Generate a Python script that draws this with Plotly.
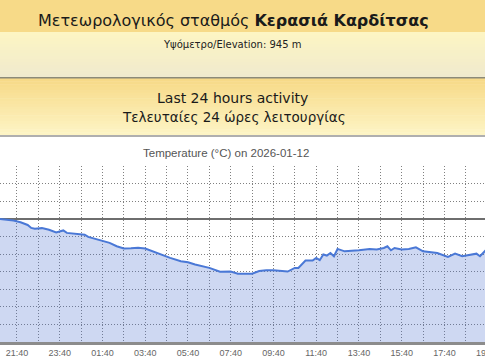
import plotly.graph_objects as go

# ---- data ----
times = [
    "2026-01-11 20:50", "2026-01-11 21:10", "2026-01-11 21:30", "2026-01-11 21:50",
    "2026-01-11 22:10", "2026-01-11 22:20", "2026-01-11 22:30", "2026-01-11 22:50",
    "2026-01-11 23:10", "2026-01-11 23:30", "2026-01-11 23:50", "2026-01-12 00:00",
    "2026-01-12 00:20", "2026-01-12 00:50", "2026-01-12 01:00", "2026-01-12 01:30",
    "2026-01-12 02:00", "2026-01-12 02:20", "2026-01-12 02:40", "2026-01-12 03:00",
    "2026-01-12 03:20", "2026-01-12 03:40", "2026-01-12 04:00", "2026-01-12 04:30",
    "2026-01-12 04:50", "2026-01-12 05:20", "2026-01-12 05:40", "2026-01-12 06:00",
    "2026-01-12 06:10", "2026-01-12 06:40", "2026-01-12 07:10", "2026-01-12 07:40",
    "2026-01-12 08:00", "2026-01-12 08:10", "2026-01-12 08:40", "2026-01-12 09:00",
    "2026-01-12 09:20", "2026-01-12 09:40", "2026-01-12 10:00", "2026-01-12 10:20",
    "2026-01-12 10:40", "2026-01-12 10:50", "2026-01-12 11:10", "2026-01-12 11:30",
    "2026-01-12 11:40", "2026-01-12 11:50", "2026-01-12 12:00", "2026-01-12 12:10",
    "2026-01-12 12:20", "2026-01-12 12:30", "2026-01-12 12:40", "2026-01-12 13:00",
    "2026-01-12 13:40", "2026-01-12 14:10", "2026-01-12 14:30", "2026-01-12 14:50",
    "2026-01-12 15:00", "2026-01-12 15:10", "2026-01-12 15:20", "2026-01-12 15:40",
    "2026-01-12 16:00", "2026-01-12 16:20", "2026-01-12 16:40", "2026-01-12 17:00",
    "2026-01-12 17:20", "2026-01-12 17:50", "2026-01-12 18:10", "2026-01-12 18:30",
    "2026-01-12 19:10", "2026-01-12 19:20", "2026-01-12 19:40",
]
temps = [
    0.0, -0.05, -0.1, -0.2,
    -0.35, -0.52, -0.57, -0.53,
    -0.62, -0.77, -0.66, -0.8,
    -0.85, -0.9, -1.03, -1.19,
    -1.37, -1.56, -1.69, -1.68,
    -1.64, -1.69, -1.85, -2.07,
    -2.22, -2.41, -2.47, -2.6,
    -2.65, -2.79, -3.01, -3.0,
    -3.12, -3.12, -3.12, -2.97,
    -2.92, -2.92, -2.97, -3.0,
    -2.79, -2.79, -2.37, -2.37,
    -2.22, -2.35, -2.03, -2.09,
    -1.94, -2.13, -1.71, -1.85,
    -1.79, -1.71, -1.75, -1.66,
    -1.56, -1.79, -1.66, -1.75,
    -1.71, -1.62, -1.85, -1.88,
    -1.94, -2.17, -1.98, -2.13,
    -1.98, -2.13, -1.7,
]
y_min, y_max = -7, 3
x_range = ["2026-01-11 20:52:18", "2026-01-12 19:34:00"]
tick_start = "2026-01-11 21:40"
extra_tick_label = "19:40"

title_main = "Μετεωρολογικός σταθμός <b>Κερασιά Καρδίτσας</b>"
subtitle = "Υψόμετρο/Elevation: 945 m"
banner_en = "Last 24 hours activity"
banner_gr = "Τελευταίες 24 ώρες λειτουργίας"
chart_title = "Temperature (°C) on 2026-01-12"

# ---- layout geometry (pixels) ----
W, H = 485, 360
PLOT_TOP, PLOT_BOT = 166, 342


def py(p):
    """pixel y (from top) -> paper y"""
    return (PLOT_BOT - p) / (PLOT_BOT - PLOT_TOP)


def mix(c1, c2, t):
    return "rgb(%d,%d,%d)" % tuple(round(a + (b - a) * t) for a, b in zip(c1, c2))


shapes = []


def band(p0, p1, c_top, c_bot, steps=1):
    h = (p1 - p0) / steps
    for i in range(steps):
        t = i / max(steps - 1, 1)
        shapes.append(dict(type="rect", xref="paper", yref="paper",
                           x0=-0.01, x1=1.01, y0=py(p0 + i * h), y1=py(p0 + (i + 1) * h + 0.5),
                           fillcolor=mix(c_top, c_bot, t), line=dict(width=0), layer="below"))


gold = (247, 218, 136)
pale = (253, 245, 195)
band(0, 32, gold, gold)
band(32, 77, pale, (240, 234, 205), steps=15)
band(77, 78.5, (140, 138, 120), (140, 138, 120))
band(78.5, 135, gold, (253, 244, 196), steps=20)
band(135, 136.5, (175, 175, 175), (175, 175, 175))

fig = go.Figure()
fig.add_trace(go.Scatter(x=times, y=[y_min] * len(times), mode="lines",
                         line=dict(width=0), hoverinfo="skip", showlegend=False))
fig.add_trace(go.Scatter(x=times, y=temps, mode="lines", fill="tonexty",
                         fillcolor="rgba(80,115,208,0.28)",
                         line=dict(color="#4a78d6", width=2), showlegend=False))

font_v = "DejaVu Sans, Verdana, sans-serif"
font_a = "Liberation Sans, Arial, sans-serif"


def label(text, xc, yc, family, size, color):
    return dict(text=text, x=xc / W, y=py(yc), xref="paper", yref="paper",
                xanchor="center", yanchor="middle", showarrow=False,
                font=dict(family=family, size=size, color=color))


annotations = [
    label(title_main, 233, 21, font_v, 16, "#1a1a1a"),
    label(subtitle, 232, 44, font_v, 10, "#222"),
    label(banner_en, 232, 98, font_v, 14, "#1a1a1a"),
    label(banner_gr, 234, 117, font_v, 13.5, "#1a1a1a"),
    label(chart_title, 226, 153, font_a, 11.5, "#555"),
    label(extra_tick_label, 487.5, 353, font_a, 9, "#666"),
]

grid = dict(griddash="1px,2px", gridcolor="#808080", gridwidth=1)

fig.update_layout(
    width=W, height=H,
    margin=dict(l=0, r=0, t=PLOT_TOP, b=H - PLOT_BOT, pad=0),
    paper_bgcolor="white", plot_bgcolor="white",
    shapes=shapes, annotations=annotations,
    xaxis=dict(type="date", range=x_range, tick0=tick_start, dtick=2 * 3600000,
               tickformat="%H:%M", showgrid=True, **grid,
               ticks="", tickfont=dict(family=font_a, size=9, color="#666"),
               showline=True, linecolor="#8c8c8c", linewidth=3, zeroline=False,
               minor=dict(dtick=3600000, tick0=tick_start, showgrid=True, **grid)),
    yaxis=dict(range=[y_min, y_max], dtick=1, showgrid=True, **grid,
               showticklabels=False, ticks="",
               zeroline=True, zerolinecolor="#6e6e6e", zerolinewidth=2, showline=False),
)

fig.write_html("out.html")
